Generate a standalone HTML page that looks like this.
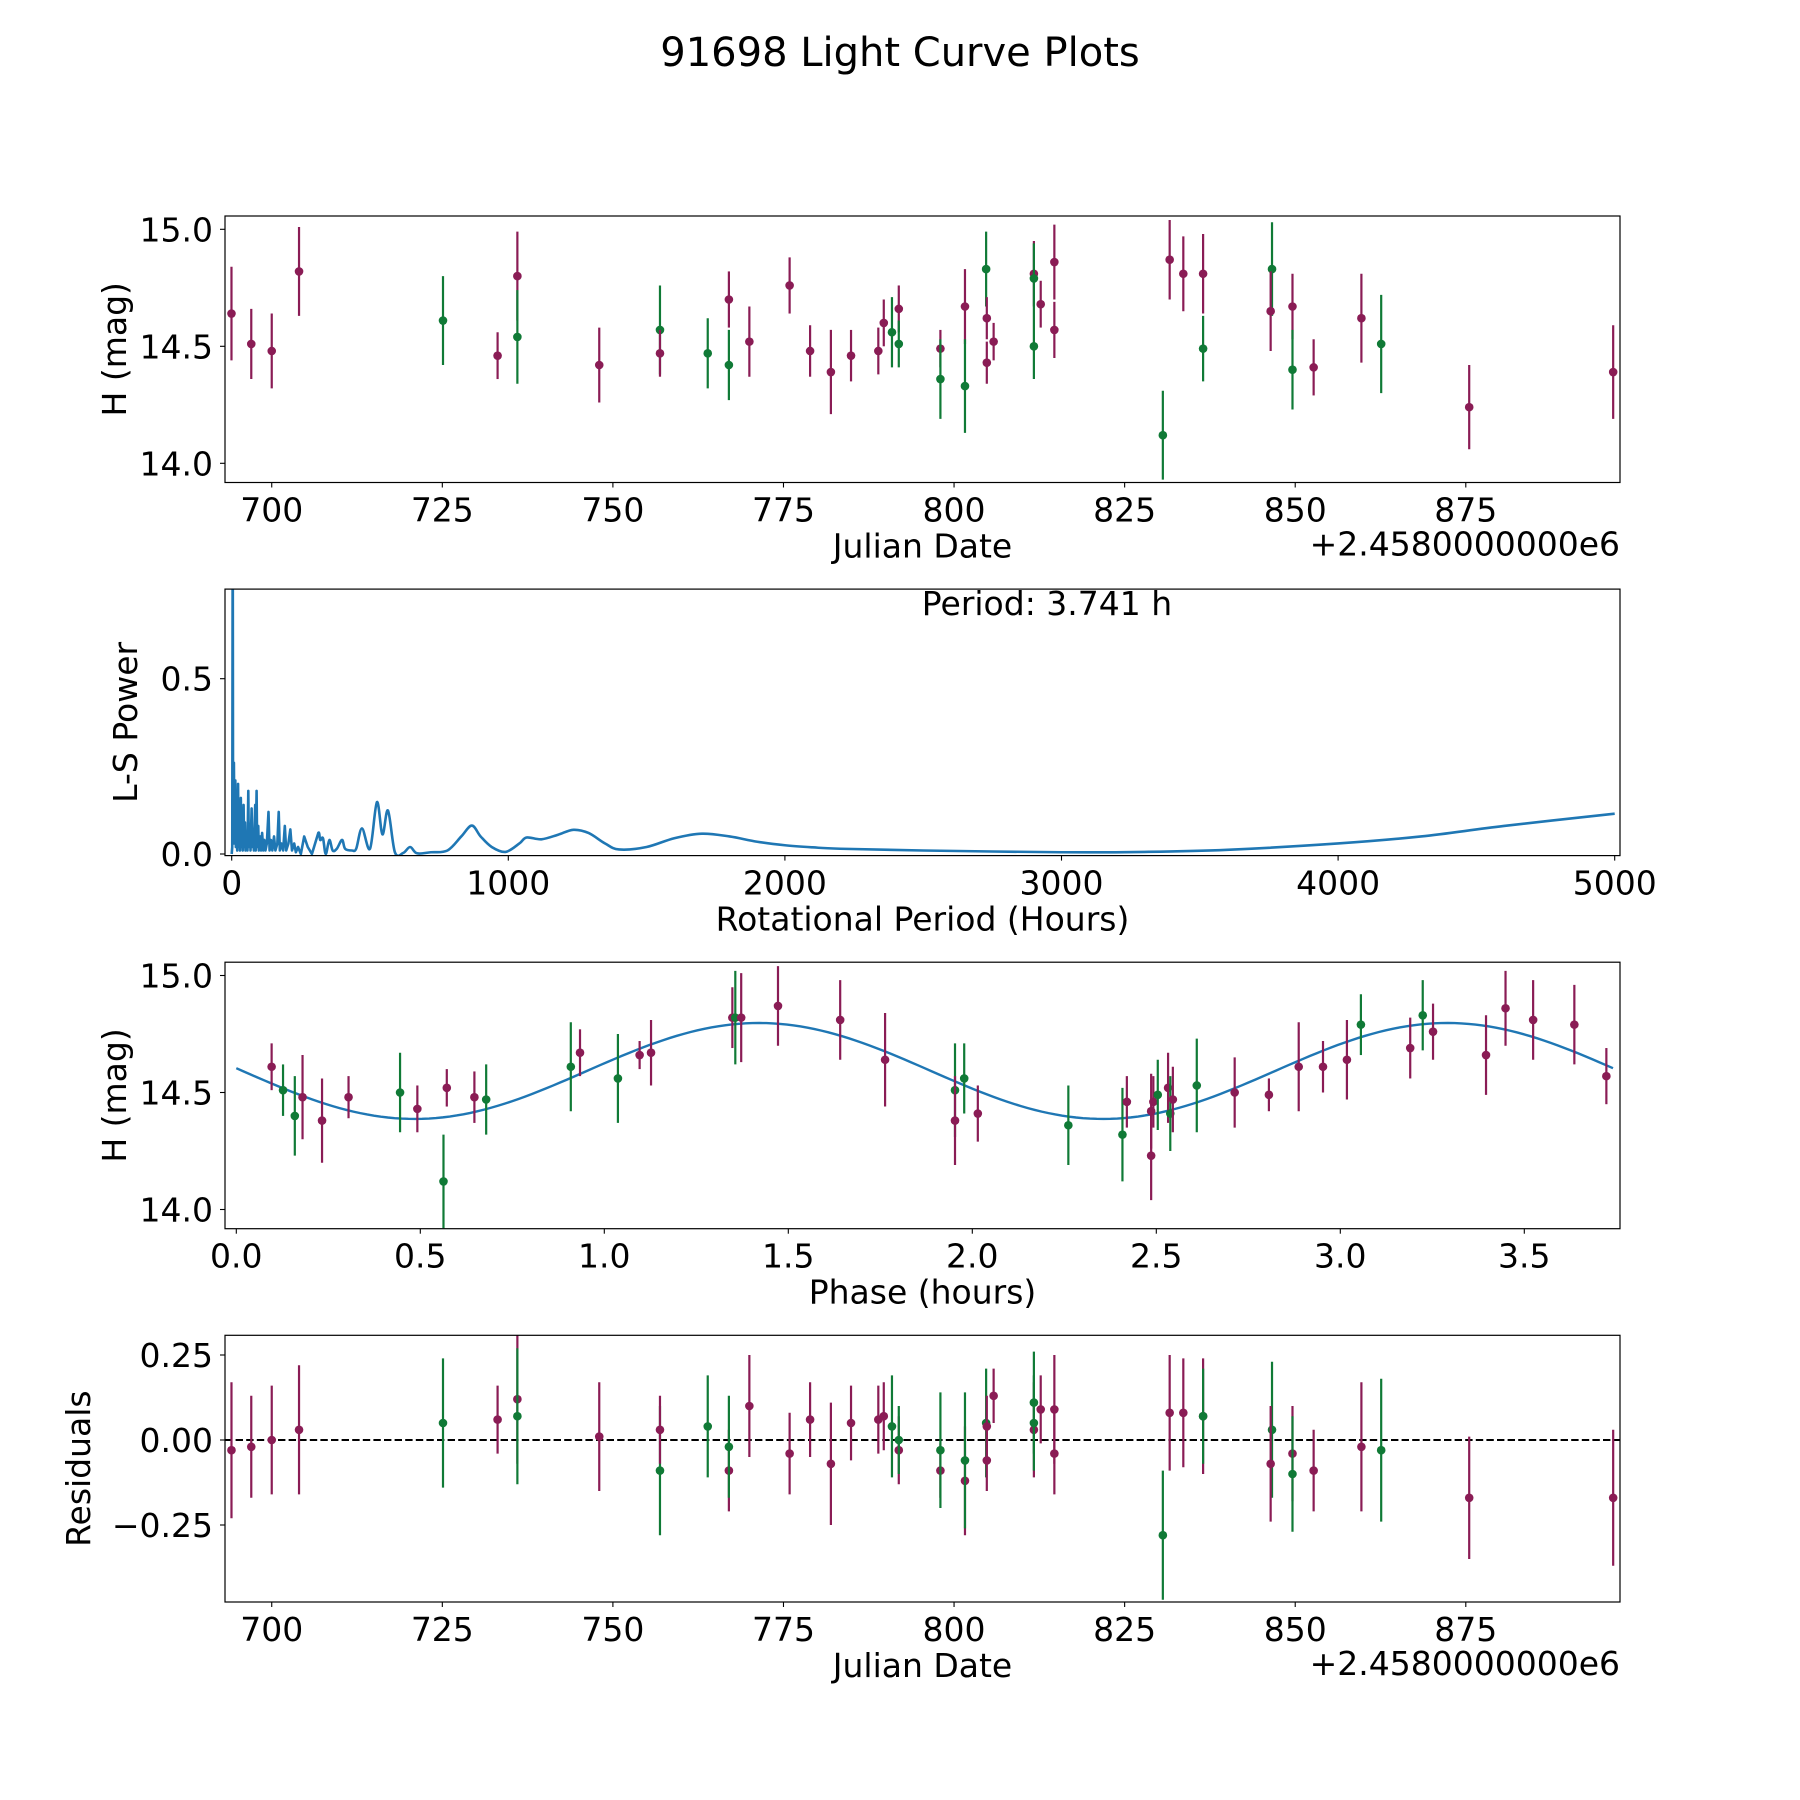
<!DOCTYPE html>
<html><head><meta charset="utf-8"><style>
html,body{margin:0;padding:0;background:#fff;}
svg{display:block;font-family:"DejaVu Sans","Liberation Sans",sans-serif;}
</style></head><body>
<svg id="fig" width="1800" height="1800" viewBox="0 0 1800 1800" xmlns="http://www.w3.org/2000/svg">
<rect width="1800" height="1800" fill="#fff"/>
<text x="900" y="66" font-size="40" text-anchor="middle">91698 Light Curve Plots</text>
</svg>
<script>
// ---- Panel 1 / 4 data (Julian date offsets, H mag, errors, residuals, filter) ----
const dates = [694.1,697.0,700.0,704.0,725.1,733.1,736.0,736.0,748.0,756.9,756.9,763.9,767.0,767.0,770.0,775.9,778.9,781.95,784.9,788.9,789.7,790.9,791.9,791.9,798.0,798.0,801.6,801.6,804.7,804.8,804.8,805.8,811.7,811.7,811.7,812.7,814.7,814.7,830.6,831.6,833.6,836.5,836.5,846.6,846.4,849.6,849.6,852.7,859.7,862.6,875.5,896.6];
const mags = [14.64,14.51,14.48,14.82,14.61,14.46,14.80,14.54,14.42,14.57,14.47,14.47,14.70,14.42,14.52,14.76,14.48,14.39,14.46,14.48,14.60,14.56,14.66,14.51,14.49,14.36,14.67,14.33,14.83,14.62,14.43,14.52,14.81,14.79,14.50,14.68,14.86,14.57,14.12,14.87,14.81,14.81,14.49,14.83,14.65,14.67,14.40,14.41,14.62,14.51,14.24,14.39];
const magErrs = [0.20,0.15,0.16,0.19,0.19,0.10,0.19,0.20,0.16,0.19,0.10,0.15,0.12,0.15,0.15,0.12,0.11,0.18,0.11,0.10,0.10,0.15,0.10,0.10,0.08,0.17,0.16,0.20,0.16,0.09,0.09,0.08,0.14,0.15,0.14,0.10,0.16,0.12,0.19,0.17,0.16,0.17,0.14,0.20,0.17,0.14,0.17,0.12,0.19,0.21,0.18,0.20];
const residuals = [-0.03,-0.02,0.00,0.03,0.05,0.06,0.12,0.07,0.01,-0.09,0.03,0.04,-0.09,-0.02,0.10,-0.04,0.06,-0.07,0.05,0.06,0.07,0.04,-0.03,0.00,-0.09,-0.03,-0.12,-0.06,0.05,0.04,-0.06,0.13,0.03,0.11,0.05,0.09,0.09,-0.04,-0.28,0.08,0.08,0.07,0.07,0.03,-0.07,-0.04,-0.10,-0.09,-0.02,-0.03,-0.17,-0.17];
const filters = ["p","p","p","p","g","p","p","g","p","g","p","g","p","g","p","p","p","p","p","p","p","g","p","g","p","g","p","g","g","p","p","p","p","g","g","p","p","p","g","p","p","p","g","g","p","p","g","p","p","g","p","p"];
// ---- Panel 2 periodogram ----
const periods = [0,2,3.74,5,8,10,13,15,18,20,23,25,28,30,33,35,38,40,43,45,48,50,55,57,60,62,66,68,72,74,78,80,85,87,90,92,96,98,103,106,110,114,118,122,127,133,137,142,147,153,158,165,170,174,180,186,192,197,205,212,218,226,232,240,250,262,275,290,313,320,330,340,353,365,380,399,410,435,450,471,500,525,545,565,590,620,645,670,720,780,830,868,900,940,990,1040,1066,1120,1180,1235,1290,1350,1400,1500,1600,1700,1800,1900,2000,2100,2200,2500,3000,3300,3600,4000,4300,4600,5000];
const powers = [0.0,0.02,1.0,0.05,0.26,0.03,0.21,0.02,0.15,0.01,0.20,0.02,0.12,0.01,0.16,0.02,0.10,0.01,0.14,0.02,0.09,0.01,0.06,0.01,0.18,0.02,0.08,0.01,0.13,0.02,0.07,0.01,0.14,0.01,0.18,0.02,0.08,0.01,0.05,0.01,0.06,0.01,0.04,0.01,0.03,0.12,0.01,0.04,0.01,0.05,0.01,0.03,0.12,0.01,0.03,0.01,0.08,0.01,0.03,0.07,0.01,0.03,0.005,0.02,0.0,0.05,0.02,0.0,0.06,0.04,0.045,0.0,0.04,0.01,0.015,0.04,0.015,0.01,0.015,0.073,0.015,0.148,0.056,0.124,0.005,0.003,0.02,0.002,0.005,0.01,0.05,0.081,0.05,0.02,0.006,0.03,0.047,0.042,0.055,0.069,0.06,0.03,0.013,0.02,0.045,0.058,0.05,0.035,0.025,0.019,0.015,0.01,0.005,0.006,0.012,0.03,0.05,0.08,0.115];
const periodLabel = "Period: 3.741 h";
// ---- Panel 3 phased ----
const phases = [0.096,0.127,0.159,0.180,0.233,0.305,0.445,0.492,0.563,0.572,0.647,0.679,0.909,0.934,1.037,1.096,1.127,1.348,1.356,1.372,1.472,1.641,1.763,1.953,1.953,1.978,2.015,2.261,2.408,2.420,2.486,2.486,2.492,2.504,2.532,2.538,2.545,2.610,2.713,2.806,2.887,2.953,3.018,3.056,3.190,3.224,3.252,3.396,3.449,3.524,3.636,3.723];
const phaseMags = [14.61,14.51,14.40,14.48,14.38,14.48,14.50,14.43,14.12,14.52,14.48,14.47,14.61,14.67,14.56,14.66,14.67,14.82,14.82,14.82,14.87,14.81,14.64,14.51,14.38,14.56,14.41,14.36,14.32,14.46,14.23,14.42,14.46,14.49,14.52,14.41,14.47,14.53,14.50,14.49,14.61,14.61,14.64,14.79,14.69,14.83,14.76,14.66,14.86,14.81,14.79,14.57];
const phaseErrs = [0.10,0.11,0.17,0.18,0.18,0.09,0.17,0.10,0.20,0.08,0.11,0.15,0.19,0.10,0.19,0.06,0.14,0.13,0.20,0.19,0.17,0.17,0.20,0.20,0.19,0.15,0.12,0.17,0.20,0.11,0.19,0.16,0.11,0.15,0.15,0.16,0.14,0.20,0.15,0.07,0.19,0.11,0.17,0.13,0.13,0.15,0.12,0.17,0.16,0.17,0.17,0.12];
const phaseFilters = ["p","g","g","p","p","p","g","p","g","p","p","g","g","p","g","p","p","p","g","p","p","p","p","g","p","g","p","g","g","p","p","p","p","g","p","g","p","g","p","p","p","p","p","g","p","g","p","p","p","p","p","p"];
const fitMean = [14.592];
const fitAmp = [0.205];
const fitPeak = [1.42];
const rotPeriod = [3.741];
// ---- ticks ----
const dateTicks = [700,725,750,775,800,825,850,875];
const magTicks = [14.0,14.5,15.0];
const magTickLabels = ["14.0","14.5","15.0"];
const periodTicks = [0,1000,2000,3000,4000,5000];
const powerTicks = [0.0,0.5];
const powerTickLabels = ["0.0","0.5"];
const phaseTicks = [0.0,0.5,1.0,1.5,2.0,2.5,3.0,3.5];
const phaseTickLabels = ["0.0","0.5","1.0","1.5","2.0","2.5","3.0","3.5"];
const resTicks = [0.25,0.0,-0.25];
const resTickLabels = ["0.25","0.00","\u22120.25"];

const NS = "http://www.w3.org/2000/svg";
const svg = document.getElementById("fig");
const COL = {p:"#8a1c55", g:"#107a36"};
const L = 225, R = 1620;
const FS = 33;
function el(tag, attrs, parent){
  const e = document.createElementNS(NS, tag);
  for (const k in attrs) e.setAttribute(k, attrs[k]);
  (parent||svg).appendChild(e);
  return e;
}
function lin(d0,d1,r0,r1){ return v => r0 + (v-d0)/(d1-d0)*(r1-r0); }

function makeAxes(name, top, bottom, xs, ys, xticks, xlabels, yticks, ylabels, xTitle, yTitle, yTitleX){
  const g = el("g", {});
  
  
  const clipId = name + "-clip";
  const cp = el("clipPath", {id: clipId}, g);
  el("rect", {x:L, y:top, width:R-L, height:bottom-top}, cp);
  const plot = el("g", {"clip-path":"url(#"+clipId+")"}, g);
  
  
  xticks.forEach((t,i)=>{
    const x = xs(t);
    const tk = el("line", {x1:x, x2:x, y1:bottom, y2:bottom+5, stroke:"#000", "stroke-width":1.1}, g);
    
    
    const tl = el("text", {x:x, y:bottom+39, "font-size":FS, "text-anchor":"middle"}, g);
    tl.textContent = xlabels[i];
    
    
  });
  yticks.forEach((t,i)=>{
    const y = ys(t);
    const tk = el("line", {x1:L-5, x2:L, y1:y, y2:y, stroke:"#000", "stroke-width":1.1}, g);
    
    
    const tl = el("text", {x:L-12, y:y+12, "font-size":FS, "text-anchor":"end"}, g);
    tl.textContent = ylabels[i];
    
    
  });
  const xt = el("text", {x:(L+R)/2, y:bottom+75, "font-size":FS, "text-anchor":"middle"}, g);
  xt.textContent = xTitle;
  
  
  const cy = (top+bottom)/2;
  const yt = el("text", {x:yTitleX, y:cy, "font-size":FS, "text-anchor":"middle", transform:"rotate(-90 "+yTitleX+" "+cy+")"}, g);
  yt.textContent = yTitle;
  
  
  return {g, plot, frame: ()=>{
    const fr = el("rect", {x:L, y:top, width:R-L, height:bottom-top, fill:"none", stroke:"#000", "stroke-width":1.2}, g);
    
    
  }};
}
function errPoint(parent, x, y, yLo, yHi, color){
  const ln = el("line", {x1:x, x2:x, y1:yLo, y2:yHi, stroke:color, "stroke-width":2.2}, parent);
  
  
  const c = el("circle", {cx:x, cy:y, r:4.3, fill:color}, parent);
  
  
}
const dateLabels = dateTicks.map(String);

// Panel 1
{
  const top=216, bottom=482.5;
  const xs = lin(693.15, 897.6, L, R);
  const ys = lin(15.0, 14.0, 229.3, 463.3);
  const ax = makeAxes("raw-light-curve-panel", top, bottom, xs, ys, dateTicks, dateLabels, magTicks, magTickLabels, "Julian Date", "H (mag)", 126);
  dates.forEach((d,i)=> errPoint(ax.plot, xs(d), ys(mags[i]), ys(mags[i]-magErrs[i]), ys(mags[i]+magErrs[i]), COL[filters[i]]));
  const off = el("text", {x:R, y:bottom+73, "font-size":FS, "text-anchor":"end"}, ax.g);
  off.textContent = "+2.4580000000e6";
  
  
  ax.frame();
}
// Panel 2
{
  const top=589.1, bottom=855.6;
  const xs = lin(0, 1000, 231.7, 508.3);
  const ys = lin(0, 0.5, 854, 678.7);
  const ax = makeAxes("periodogram-panel", top, bottom, xs, ys, periodTicks, periodTicks.map(String), powerTicks, powerTickLabels, "Rotational Period (Hours)", "L-S Power", 137);
  const P = periods.map((p,i)=>[xs(p), ys(powers[i])]);
  let d = "M" + P[0][0].toFixed(2) + " " + P[0][1].toFixed(2);
  for (let i=0;i<P.length-1;i++){
    const p0 = P[Math.max(0,i-1)], p1 = P[i], p2 = P[i+1], p3 = P[Math.min(P.length-1,i+2)];
    if (periods[i] < 300) { d += " L" + p2[0].toFixed(2) + " " + p2[1].toFixed(2); continue; }
    const c1x = p1[0] + (p2[0]-p0[0])/6, c1y = p1[1] + (p2[1]-p0[1])/6;
    const c2x = p2[0] - (p3[0]-p1[0])/6, c2y = p2[1] - (p3[1]-p1[1])/6;
    d += " C" + c1x.toFixed(2)+" "+c1y.toFixed(2)+" "+c2x.toFixed(2)+" "+c2y.toFixed(2)+" "+p2[0].toFixed(2)+" "+p2[1].toFixed(2);
  }
  const pl = el("path", {d:d, fill:"none", stroke:"#1f77b4", "stroke-width":2.6, "stroke-linejoin":"round"}, ax.plot);
  
  
  const lbl = el("text", {x:1047, y:615, "font-size":FS, "text-anchor":"middle"}, ax.g);
  lbl.textContent = periodLabel;
  
  
  ax.frame();
}
// Panel 3
{
  const top=962.2, bottom=1228.7;
  const xs = lin(0, 3.5, 236.3, 1524.3);
  const ys = lin(15.0, 14.0, 229.3+746.2, 463.3+746.2);
  const ax = makeAxes("phased-light-curve-panel", top, bottom, xs, ys, phaseTicks, phaseTickLabels, magTicks, magTickLabels, "Phase (hours)", "H (mag)", 126);
  const pts = [];
  for (let k=0;k<=200;k++){
    const p = rotPeriod[0]*k/200;
    const m = fitMean[0] + fitAmp[0]*Math.cos(2*Math.PI*2*(p-fitPeak[0])/rotPeriod[0]);
    pts.push((k?"L":"M") + xs(p).toFixed(2) + " " + ys(m).toFixed(2));
  }
  const fl = el("path", {d:pts.join(" "), fill:"none", stroke:"#1f77b4", "stroke-width":2.4}, ax.plot);
  
  
  phases.forEach((p,i)=> errPoint(ax.plot, xs(p), ys(phaseMags[i]), ys(phaseMags[i]-phaseErrs[i]), ys(phaseMags[i]+phaseErrs[i]), COL[phaseFilters[i]]));
  ax.frame();
}
// Panel 4
{
  const top=1335.3, bottom=1602;
  const xs = lin(693.15, 897.6, L, R);
  const ys = lin(0, 0.25, 1440, 1355);
  const ax = makeAxes("residuals-panel", top, bottom, xs, ys, dateTicks, dateLabels, resTicks, resTickLabels, "Julian Date", "Residuals", 90);
  const zl = el("line", {x1:L, x2:R, y1:ys(0), y2:ys(0), stroke:"#000", "stroke-width":2, "stroke-dasharray":"7.4 3.2"}, ax.plot);
  
  
  dates.forEach((d,i)=> errPoint(ax.plot, xs(d), ys(residuals[i]), ys(residuals[i]-magErrs[i]), ys(residuals[i]+magErrs[i]), COL[filters[i]]));
  const off = el("text", {x:R, y:bottom+73, "font-size":FS, "text-anchor":"end"}, ax.g);
  off.textContent = "+2.4580000000e6";
  
  
  ax.frame();
}
</script>
</body></html>
